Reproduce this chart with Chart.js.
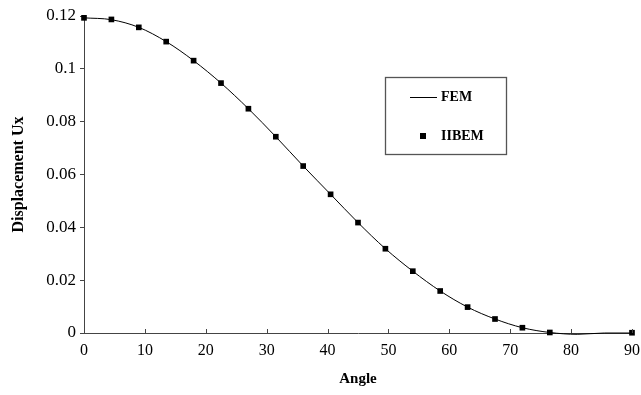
<!DOCTYPE html>
<html>
<head>
<meta charset="utf-8">
<script src="https://cdn.jsdelivr.net/npm/chart.js@4/dist/chart.umd.min.js"></script>
<style>
  html, body { margin: 0; padding: 0; background: #fff; }
  #wrap { position: relative; width: 641px; height: 395px; }
</style>
</head>
<body>
<div id="wrap"><canvas id="c" width="641" height="395"></canvas></div>
<script>
const femAngles = [0, 4.5, 9, 13.5, 18, 22.5, 27, 31.5, 36, 40.5, 45, 49.5, 54, 58.5, 63, 67.5, 72, 76.5, 81, 85.5, 90];
const femValues = [0.1193, 0.1186, 0.1157, 0.1103, 0.1031, 0.0946, 0.0849, 0.0743, 0.0632, 0.0525, 0.0418, 0.0319, 0.0234, 0.0159, 0.0098, 0.0053, 0.0020, 0.0002, -0.0005, 0.0000, 0.0000];
const iibemAngles = [0, 4.5, 9, 13.5, 18, 22.5, 27, 31.5, 36, 40.5, 45, 49.5, 54, 58.5, 63, 67.5, 72, 76.5, 90];
const iibemValues = [0.1193, 0.1187, 0.1157, 0.1103, 0.1031, 0.0946, 0.0849, 0.0743, 0.0632, 0.0525, 0.0418, 0.0319, 0.0234, 0.0159, 0.0098, 0.0053, 0.0020, 0.0002, 0.0001];
const seriesNames = ['FEM', 'IIBEM'];
const xTitle = 'Angle';
const yTitle = 'Displacement Ux';

const FONT = "'Liberation Serif', 'Times New Roman', serif";
const toPts = (xs, ys) => xs.map((x, i) => ({x: x, y: ys[i]}));

const xInsideTicks = {
  id: 'xInsideTicks',
  afterDatasetsDraw(chart) {
    const xs = chart.scales.x, ctx = chart.ctx, b = chart.chartArea.bottom;
    ctx.save();
    ctx.strokeStyle = '#444';
    ctx.lineWidth = 1;
    xs.ticks.forEach(t => {
      if (t.value === 0) return;
      const px = Math.round(xs.getPixelForValue(t.value)) + 0.5;
      ctx.beginPath();
      ctx.moveTo(px, b);
      ctx.lineTo(px, b - 4);
      ctx.stroke();
    });
    ctx.restore();
  }
};

const boxLegend = {
  id: 'boxLegend',
  afterDraw(chart) {
    const ctx = chart.ctx;
    ctx.save();
    ctx.strokeStyle = '#555';
    ctx.lineWidth = 1.3;
    ctx.strokeRect(385.5, 77.5, 121, 77);
    ctx.strokeStyle = '#000';
    ctx.lineWidth = 1;
    ctx.beginPath();
    ctx.moveTo(410, 97.5);
    ctx.lineTo(437, 97.5);
    ctx.stroke();
    ctx.fillStyle = '#000';
    ctx.fillRect(420, 133, 6, 6);
    ctx.font = "bold 14px " + FONT;
    ctx.textBaseline = 'middle';
    ctx.textAlign = 'left';
    ctx.fillText(seriesNames[0], 441, 97.5);
    ctx.fillText(seriesNames[1], 441, 136);
    ctx.restore();
  }
};

new Chart(document.getElementById('c'), {
  type: 'scatter',
  data: {
    datasets: [
      {
        label: seriesNames[0],
        data: toPts(femAngles, femValues),
        showLine: true,
        borderColor: '#000',
        borderWidth: 1,
        pointRadius: 0,
        cubicInterpolationMode: 'monotone',
        clip: 6,
        order: 2
      },
      {
        label: seriesNames[1],
        data: toPts(iibemAngles, iibemValues),
        showLine: false,
        pointStyle: 'rect',
        pointRadius: 4,
        backgroundColor: '#000',
        borderColor: '#000',
        borderWidth: 0,
        clip: 8,
        order: 1
      }
    ]
  },
  options: {
    responsive: false,
    animation: false,
    devicePixelRatio: 1,
    layout: { padding: { top: 16, right: 9, bottom: 0, left: 0 } },
    plugins: {
      legend: { display: false },
      tooltip: { enabled: false }
    },
    scales: {
      x: {
        type: 'linear',
        min: 0, max: 90,
        ticks: {
          stepSize: 10,
          color: '#000',
          font: { family: FONT, size: 16 },
          padding: 8,
          maxRotation: 0
        },
        grid: { display: true, drawOnChartArea: false, drawTicks: false },
        border: { display: true, color: '#444', width: 1 },
        title: {
          display: true, text: xTitle, color: '#000',
          font: { family: FONT, size: 15, weight: 'bold' },
          padding: { top: 0, bottom: 7 }
        },
        afterFit(scale) {
          scale.height = 395 - 333;
          scale.paddingLeft = 0;
          scale.paddingRight = 0;
        }
      },
      y: {
        type: 'linear',
        min: 0, max: 0.12,
        ticks: {
          stepSize: 0.02,
          color: '#000',
          font: { family: FONT, size: 17 },
          padding: 4,
          callback: v => String(+Number(v).toFixed(2))
        },
        grid: { display: true, drawOnChartArea: false, drawTicks: true, tickLength: 4, color: '#444' },
        border: { display: true, color: '#444', width: 1 },
        title: {
          display: true, text: yTitle, color: '#000',
          font: { family: FONT, size: 16, weight: 'bold' },
          padding: { top: 9, bottom: 0 }
        },
        afterFit(scale) {
          scale.width = 84;
          scale.paddingTop = 0;
          scale.paddingBottom = 0;
        }
      }
    }
  },
  plugins: [xInsideTicks, boxLegend]
});
</script>
</body>
</html>
